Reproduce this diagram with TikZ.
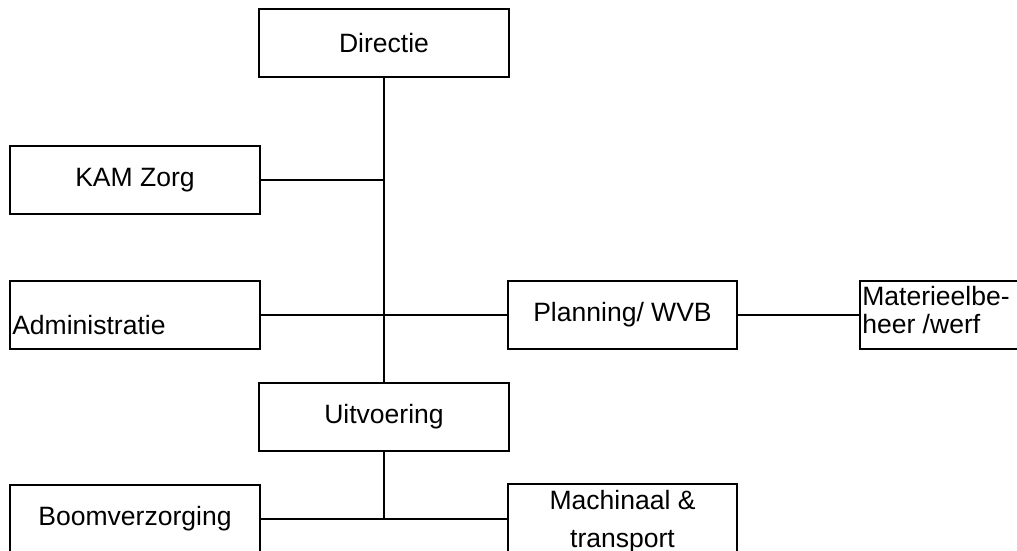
\documentclass[tikz,border=0pt]{standalone}
\usepackage{fontspec}
\setmainfont{Liberation Sans}
\usetikzlibrary{positioning}

\begin{document}
\begin{tikzpicture}[x=0.75pt,y=-0.75pt,
    every node/.style={font=\fontsize{19.9}{21}\selectfont},
    box/.style={draw,rectangle,line width=1.5pt,inner sep=0pt,minimum width=187.5pt,minimum height=50.5pt},
    wbox/.style={box,minimum width=171.75pt},
    lbl/.style={inner sep=0pt,align=left},
    link/.style={line width=1.5pt}]
    \useasboundingbox (0,0) rectangle (1017,550);
    \clip (0,0) rectangle (1017,550);
    \path
        (384,43)        node[box] (dir){Directie}
     ++ (-249,137)      node[box] (kam){KAM Zorg}
     ++ (0,135)         node[box] (adm){}
     ++ (487.5,0)       node[wbox] (plan){Planning/ WVB}
     ++ (-238.5,102)    node[box] (uit){Uitvoering}
     ++ (-249,101.5)    node[box] (boom){Boomverzorging}
     ++ (487.5,0)       node[wbox,align=center,font=\fontsize{19.9}{28.5}\selectfont] (mach){\rule{0pt}{19pt}Machinaal \&\\transport}
     ;
    \path
        (945,315)       node[box,minimum width=127.5pt] (mat){}
        (12,334)        node[lbl,anchor=base west] (admtxt){Administratie}
        (862,286)       node[lbl,anchor=north west] (mattxt){Materieelbe-\\heer /werf}
     ;
     \draw [link] (dir)--(uit);
     \draw [link] (kam)--(kam -| dir);
     \draw [link] (adm)--(plan);
     \draw [link] (plan)--(mat);
     \draw [link] (uit)--(uit |- boom);
     \draw [link] (boom)--(mach);
\end{tikzpicture}
\end{document}
